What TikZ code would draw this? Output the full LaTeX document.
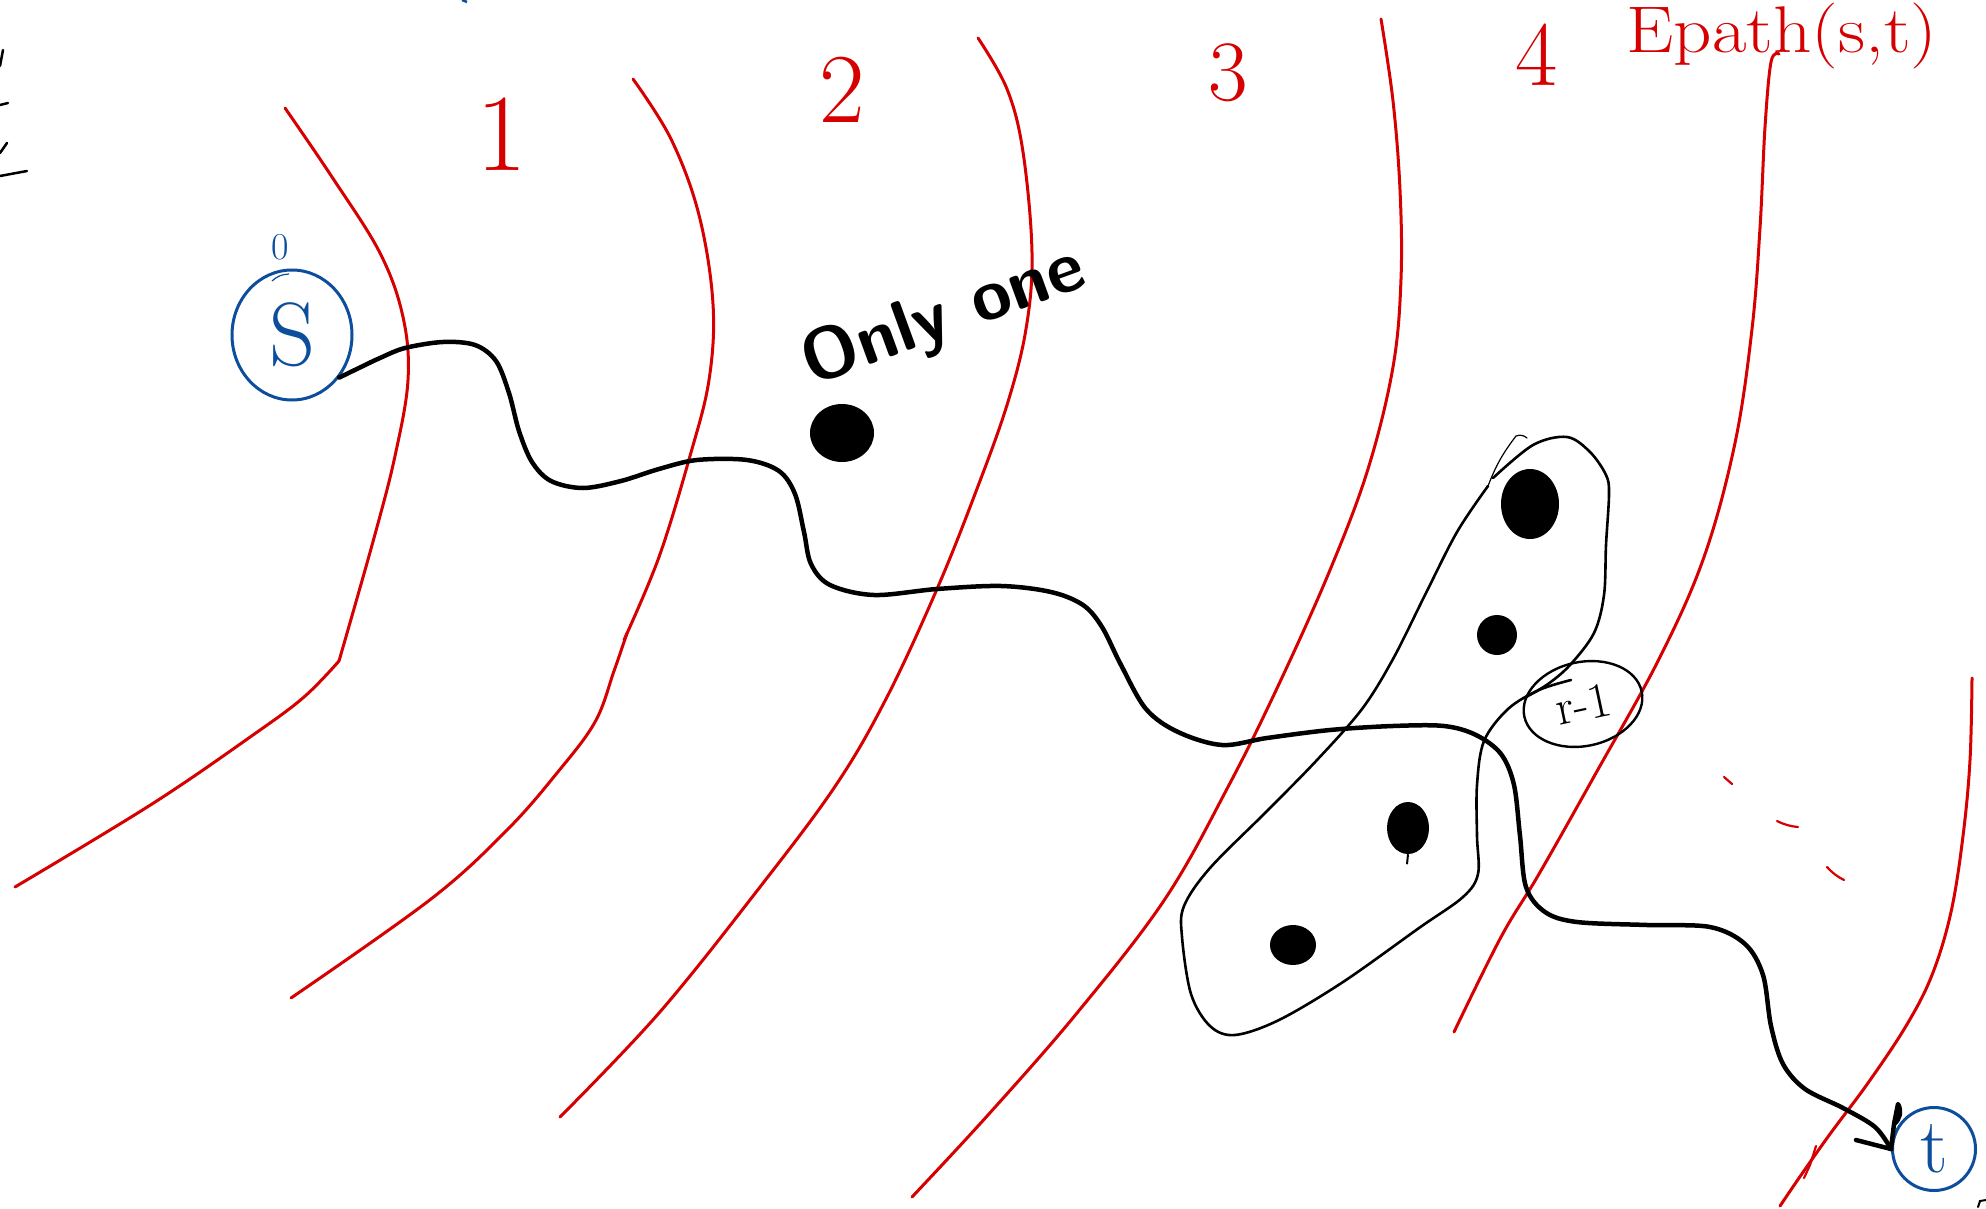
\documentclass[tikz,border=0pt]{standalone}
\usepackage{fontspec}
\usetikzlibrary{shapes.geometric}
\definecolor{myred}{RGB}{214,0,0}
\definecolor{myblue}{RGB}{12,78,156}
\tikzset{
  redline/.style={draw=myred, line width=3pt, line cap=round, line join=round},
  thinred/.style={draw=myred, line width=2.2pt, line cap=round},
  mainpath/.style={draw=black, line width=4.5pt, line cap=round, line join=round},
  blobline/.style={draw=black, line width=2.6pt, line cap=round, line join=round},
  thinblack/.style={draw=black, line width=1.2pt, line cap=round},
  redlabel/.style={text=myred, inner sep=0pt, anchor=base},
  dotnode/.style={ellipse, fill=black, draw=none, inner sep=0pt},
  endnode/.style={draw=myblue, line width=3pt, text=myblue, inner sep=0pt},
}
\begin{document}
\begin{tikzpicture}[x=1pt,y=-1pt]
\useasboundingbox (0,0) rectangle (1986,1209);
\fill[white] (0,0) rectangle (1986,1209);

% ---------- red layer boundaries ----------
\draw[redline] plot[smooth, tension=0.6] coordinates {(285,108) (332,177) (380,253) (403,317) (408,380) (395,456) (374,538) (339,661)};
\draw[redline] plot[smooth, tension=0.6] coordinates {(339,661) (304,697) (253,735) (152,804) (15,887)};
\draw[redline] plot[smooth, tension=0.6] coordinates {(633,79) (671,139) (699,215) (713,304) (709,380) (690,456) (659,557) (624,640)};
\draw[redline] plot[smooth, tension=0.6] coordinates {(627,633) (614,671) (595,722) (557,773) (507,830) (431,899) (291,998)};
\draw[redline] plot[smooth, tension=0.6] coordinates {(978,38) (1007,89) (1023,152) (1032,253) (1026,329) (1007,405) (975,494) (937,589) (887,697) (836,785) (760,887) (659,1013) (560,1117)};
\draw[redline] plot[smooth, tension=0.6] coordinates {(1381,19) (1393,101) (1400,190) (1401,279) (1393,367) (1368,469) (1330,570) (1279,684) (1229,785) (1165,899) (1077,1013) (988,1115) (912,1197)};
\draw[redline] plot[smooth, tension=0.6] coordinates {(1779,54) (1771,62) (1765,127) (1760,228) (1752,329) (1735,443) (1704,557) (1659,659) (1596,773) (1539,874) (1501,937) (1454,1032)};
\draw[redline] plot[smooth, tension=0.6] coordinates {(1972,678) (1970,760) (1963,836) (1951,912) (1932,975) (1906,1026) (1868,1083) (1830,1134) (1799,1178) (1780,1206)};
\draw[thinred] (1816,1146) -- (1810,1165) -- (1804,1178);
% dashes
\draw[thinred] (1724,777) -- (1732,784);
\draw[thinred] (1777,821) to[bend right=10] (1798,827);
\draw[thinred] (1827,867) to[bend right=10] (1844,880);

% ---------- red labels ----------
\node[redlabel, font=\fontsize{110}{110}\selectfont] (l1) at (502,171) {1};
\node[redlabel, font=\fontsize{99}{99}\selectfont] (l2) at (842,123) {2};
\node[redlabel, font=\fontsize{86}{86}\selectfont] (l3) at (1228,101) {3};
\node[redlabel, font=\fontsize{92}{92}\selectfont] (l4) at (1537,86) {4};
\node[redlabel, font=\fontsize{66}{66}\selectfont] (ep) at (1782,53) {\scalebox{1.14}[1]{Epath(s,t)}};

% ---------- marks at the edges ----------
\draw[black, line width=2.5pt, line cap=round] (0,66) -- (3,50);
\draw[black, line width=2.5pt, line cap=round] (0,105) -- (8,103);
\draw[black, line width=2.5pt, line cap=round] (0,153) -- (7,143);
\draw[black, line width=2.5pt, line cap=round] (0,176) -- (27,171);
\draw[myblue, line width=2.5pt] (462,0) -- (467,2);
\draw[black, line width=2pt, line cap=round] (1978,1207) -- (1980,1201) -- (1986,1200);

% ---------- s and t ----------
\node[endnode, ellipse, minimum width=120pt, minimum height=130pt, font=\fontsize{90}{90}\selectfont] (s) at (292,335) {S};
\node[text=myblue, inner sep=0pt, font=\fontsize{38}{38}\selectfont] (szero) at (280,247) {0};
\draw[myblue, line width=1.2pt] (272,281) to[bend left=20] (289,274);
\node[endnode, circle, minimum size=83pt, font=\fontsize{78}{78}\selectfont] (t) at (1934,1149) {t};

% ---------- "Only one" ----------
\node[rotate=20, inner sep=0pt, font=\sffamily\bfseries\fontsize{72}{72}\selectfont] (only) at (944,318) {Only one};
\node[dotnode, minimum width=64pt, minimum height=58pt] (d0) at (842,433) {};

% ---------- blob around the dots ----------
\draw[blobline] plot[smooth, tension=0.55] coordinates {(1493,478) (1533,445) (1567,437) (1590,452) (1606,475) (1609,494) (1606,545) (1604,595) (1594,633) (1570,665) (1548,684) (1526,697)};
\draw[blobline] plot[smooth, tension=0.55] coordinates {(1571,680) (1539,690) (1508,709) (1484,741) (1477,785) (1477,836) (1478,874) (1463,897) (1419,928) (1343,982) (1279,1020) (1235,1035) (1210,1026) (1191,994) (1182,937) (1184,906) (1210,868) (1267,811) (1317,760) (1362,709) (1393,659) (1425,595) (1457,532) (1488,486)};
\draw[thinblack] (1488,486) to[bend left=8] (1516,436) to[bend left=30] (1527,438);

\node[dotnode, minimum width=58pt, minimum height=70pt] (d1) at (1530,504) {};
\node[dotnode, minimum width=40pt, minimum height=40pt] (d2) at (1497,635) {};
\node[dotnode, minimum width=42pt, minimum height=52pt] (d3) at (1408,828) {};
\draw[black, line width=2pt] (d3.south) -- ++(-1,10);
\node[dotnode, minimum width=46pt, minimum height=40pt] (d4) at (1293,945) {};

% ---------- r-1 ----------
\node[draw=black, line width=2.4pt, ellipse, rotate=12, minimum width=120pt, minimum height=84pt, inner sep=0pt, font=\fontsize{50}{50}\selectfont] (r1) at (1583,704) {r-1};

% ---------- main path s -> t ----------
\draw[mainpath] plot[smooth, tension=0.55] coordinates {(s.-42) (361,367) (380,358) (405,348) (443,342) (475,345) (496,361) (509,393) (519,431) (532,462) (551,481) (583,488) (621,481) (659,469) (697,460) (747,460) (779,471) (795,494) (804,532) (811,564) (830,585) (874,595) (937,589) (1001,586) (1051,592) (1083,605) (1102,627) (1121,665) (1146,709) (1178,732) (1222,745) (1267,738) (1330,730) (1393,726) (1444,726) (1476,735) (1501,754) (1514,785) (1520,836) (1526,887) (1545,912) (1577,922) (1647,925) (1710,927) (1745,944) (1763,975) (1771,1026) (1783,1064) (1805,1089) (1843,1108) (1875,1127) (t.west)};
\draw[mainpath] (t.west) -- ++(-35,-9);
\draw[mainpath] (t.west) -- ++(3,-25) to[bend right=40] ++(4,-20) -- ++(-4,20);
\end{tikzpicture}
\end{document}
